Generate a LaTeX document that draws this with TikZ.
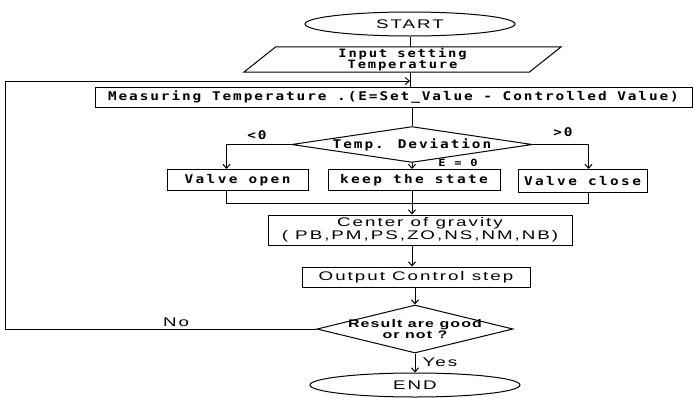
\documentclass[tikz,border=0pt]{standalone}
\usepackage{fontspec}
\usepackage{tikz}
\usetikzlibrary{arrows.meta,shapes.geometric}
\newfontfamily\plotfont[FakeStretch=1.2,LetterSpace=16]{DejaVu Sans Mono}
\newfontfamily\widefont[FakeStretch=1.2,LetterSpace=20]{DejaVu Sans Mono}
\newfontfamily\labelfont[FakeStretch=1.5,LetterSpace=16]{Liberation Sans}
\newfontfamily\resultfont[FakeStretch=1.45,LetterSpace=10]{Liberation Sans}

\begin{document}
\begin{tikzpicture}[
    x=1pt,
    y=-1pt,
    every node/.style={inner sep=0pt},
    ink/.style={draw=black, line width=1pt},
    flow/.style={ink, -{Straight Barb[length=4pt,width=7pt]}},
    box/.style={ink, rectangle, minimum height=21pt, font=\widefont\bfseries\fontsize{12}{14}\selectfont},
    terminal/.style={ink, ellipse, minimum width=210pt, minimum height=24pt, font=\labelfont\fontsize{12.5}{14}\selectfont},
    note/.style={font=\plotfont\bfseries\fontsize{12}{14}\selectfont}
  ]
    \useasboundingbox (0,0) rectangle (694,397);
    \node[terminal] (start) at (410,24) {START};
    \node[minimum width=285pt, minimum height=25pt, align=center,
          font=\plotfont\bfseries\fontsize{11.5}{11}\selectfont] (input) at (402.5,59.5)
          {Input setting\\Temperature};
    \draw[ink] ([xshift=-16pt]input.south west) -- ([xshift=16pt]input.north west)
      -- ([xshift=16pt]input.north east) -- ([xshift=-16pt]input.south east) -- cycle;
    \node[ink, rectangle, minimum width=597pt, minimum height=20pt,
          font=\plotfont\bfseries\fontsize{12}{14}\selectfont] (measure) at (393.5,97)
          {Measuring Temperature .(E=Set\_Value - Controlled Value)};
    \node[ink, diamond, aspect=6.7, minimum width=236pt, minimum height=35pt,
          font=\plotfont\bfseries\fontsize{12}{14}\selectfont] (dev) at (412,144.5) {Temp. Deviation};
    \node[box, minimum width=141pt] (open) at (237.5,180) {Valve open};
    \node[box, minimum width=172pt] (keep) at (414,180) {keep the state};
    \node[box, minimum width=129pt, minimum height=23pt] (close) at (582.5,181) {Valve close};
    \node[ink, rectangle, minimum width=304pt, minimum height=30pt, align=center,
          font=\labelfont\fontsize{12.5}{13}\selectfont] (cog) at (420,230)
          {Center of gravity\\( PB,PM,PS,ZO,NS,NM,NB)};
    \node[ink, rectangle, minimum width=228pt, minimum height=20pt,
          font=\labelfont\fontsize{12.5}{14}\selectfont] (out) at (416,277) {Output Control step};
    \node[ink, diamond, aspect=4.08, inner sep=-2pt, minimum width=196pt, minimum height=48pt,
          align=center, font=\resultfont\bfseries\fontsize{11}{11}\selectfont] (res) at (415,329)
          {Result are good\\or not ?};
    \node[terminal] (stop) at (415,385) {END};
    % branch labels
    \node[note] (lt) at (257,135) {<0};
    \node[note] (gt) at (563,132) {>0};
    \node[note, font=\plotfont\bfseries\fontsize{10}{12}\selectfont] (eq) at (458,163) {E = 0};
    \node[note, font=\labelfont\fontsize{12.5}{14}\selectfont] (no) at (176,322) {No};
    \node[note, font=\labelfont\fontsize{12.5}{14}\selectfont] (yes) at (440,362) {Yes};
    \coordinate (back) at (5,0);
    \coordinate (entry) at (410,81);
    \draw[ink] (start.south) -- (start.south |- input.north);
    \draw[ink] (start.south |- input.south) -- (start.south |- measure.north);
    \draw[ink] (dev.north |- measure.south) -- (dev.north);
    \draw[flow] (dev.west) -| ([xshift=-11pt]open.north);
    \draw[flow] (dev.south) -- (dev.south |- keep.north);
    \draw[flow] (dev.east) -| ([xshift=6pt]close.north);
    \draw[ink] ([xshift=-11pt]open.south) -- ++(0,12) -| ([xshift=6pt]close.south);
    \draw[flow] (dev.south |- keep.south) -- (dev.south |- cog.north);
    \draw[flow] (dev.south |- cog.south) -- (dev.south |- out.north);
    \draw[flow] (out.south -| res.north) -- (res.north);
    \draw[flow] (res.south) -- (stop.north);
    \draw[flow] (res.west) -| (back |- entry) -- (entry);
  \end{tikzpicture}
\end{document}
